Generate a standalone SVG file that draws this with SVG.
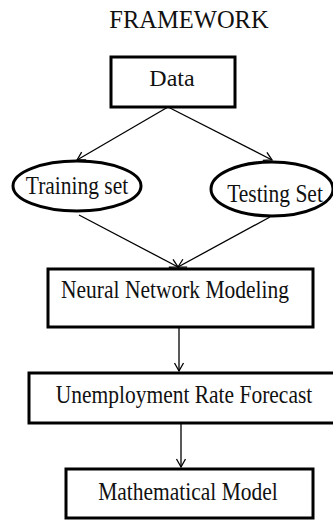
<svg xmlns="http://www.w3.org/2000/svg" width="333" height="520" viewBox="0 0 333 520">
  <style>
    .box { fill: #ffffff; stroke: #000000; stroke-width: 3; }
    .oval { fill: #ffffff; stroke: #000000; stroke-width: 3; }
    .lbl { font-family: "Liberation Serif", "Times New Roman", serif; font-size: 21.5px; fill: #111111; text-anchor: middle; }
    .big { font-size: 24px; }
    .title { font-family: "Liberation Serif", "Times New Roman", serif; font-size: 24.5px; fill: #111111; text-anchor: middle; }
    .edge { fill: none; stroke: #000000; stroke-width: 1.3; }
  </style>
  <defs>
    <marker id="arrow" markerUnits="userSpaceOnUse" markerWidth="12" markerHeight="12" refX="0" refY="0" viewBox="-10 -6 12 12" orient="auto">
      <path d="M-8,-4.5 L0,0 L-8,4.5" fill="none" stroke="#000000" stroke-width="1.3"/>
    </marker>
  </defs>
  <rect width="333" height="520" fill="#ffffff"/>

  <text class="title" x="189" y="27.5">FRAMEWORK</text>

  <g id="connectors">
    <line class="edge" x1="168" y1="107" x2="77" y2="160" marker-end="url(#arrow)"/>
    <line class="edge" x1="168" y1="107" x2="272" y2="160" marker-end="url(#arrow)"/>
    <line class="edge" x1="79" y1="215" x2="178" y2="267" marker-end="url(#arrow)"/>
    <line class="edge" x1="270" y1="217" x2="178" y2="267" marker-end="url(#arrow)"/>
    <line class="edge" x1="179" y1="328" x2="179" y2="371" marker-end="url(#arrow)"/>
    <line class="edge" x1="181" y1="424" x2="181" y2="467" marker-end="url(#arrow)"/>
  </g>

  <g id="data">
    <rect class="box" x="111" y="57" width="124" height="50"/>
    <text class="lbl big" x="172" y="86">Data</text>
  </g>

  <g id="training-set">
    <ellipse class="oval" cx="77" cy="186" rx="64" ry="25"/>
    <text class="lbl" transform="translate(77,194) scale(1,1.17)">Training set</text>
  </g>

  <g id="testing-set">
    <ellipse class="oval" cx="272" cy="189" rx="61" ry="27"/>
    <text class="lbl" transform="translate(275,202) scale(1,1.17)">Testing Set</text>
  </g>

  <g id="neural-network">
    <rect class="box" x="48" y="269" width="265" height="58"/>
    <text class="lbl" transform="translate(175,298) scale(1,1.17)">Neural Network Modeling</text>
  </g>

  <g id="forecast">
    <rect class="box" x="29" y="373" width="310" height="50"/>
    <text class="lbl" transform="translate(184,403) scale(1,1.17)">Unemployment Rate Forecast</text>
  </g>

  <g id="math-model">
    <rect class="box" x="66" y="469" width="247" height="49"/>
    <text class="lbl" transform="translate(188,500) scale(1,1.17)">Mathematical Model</text>
  </g>
</svg>
